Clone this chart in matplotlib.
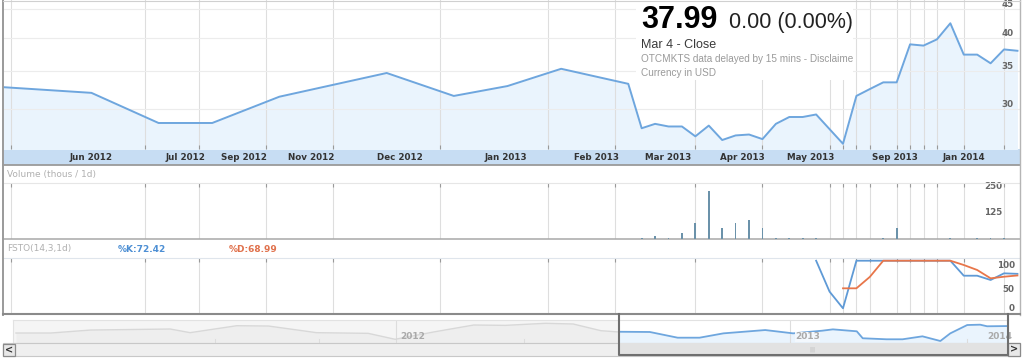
import matplotlib
matplotlib.use("Agg")
import matplotlib.pyplot as plt
from matplotlib.patches import Rectangle
from matplotlib.lines import Line2D
from matplotlib.ticker import NullLocator
from matplotlib.transforms import Bbox, TransformedBbox

W, H = 1024, 358

# price panel: one slot per weekly point, earlier points are sparse
price_slot = [-48, -41, -36, -32, -27, -19, -14, -10, -6, -1,
              0, 1, 2, 3, 4, 5, 6, 7, 8, 9, 10, 11, 12, 13, 14, 15, 16, 17,
              18, 19, 20, 21, 22, 23, 24, 25, 26, 27, 28]
price_close = [32.8, 32.0, 28.3, 28.3, 31.5, 34.7, 31.6, 32.9, 35.3, 33.2,
               27.7, 28.2, 27.9, 27.9, 26.8, 28.0, 26.4, 26.9, 27.0, 26.5, 28.2, 29.0,
               29.0, 29.3, 27.6, 26.0, 31.6, 32.5,
               33.4, 33.4, 39.0, 38.8, 39.8, 42.5, 37.4, 37.4, 36.1, 38.2, 37.99]

# volume (thousands)
vol_slot = list(range(0, 28))
vol = [6, 14, 3, 27, 78, 226, 51, 78, 91, 54, 3, 3, 3, 5, 2, 2, 2, 2, 3, 51,
       2, 2, 2, 3, 2, 3, 5, 3]

# full stochastic
k_slot = [13, 14, 15, 16, 17, 18, 19, 20, 21, 22, 23, 24, 25, 26, 27, 28]
k_val = [100, 35, 0, 100, 100, 100, 100, 100, 100, 100, 100, 68.5, 68.5, 59.5, 73.5, 72.42]
d_slot = [15, 16, 17, 18, 19, 20, 21, 22, 23, 24, 25, 26, 27, 28]
d_val = [42, 42, 66, 100, 100, 100, 100, 100, 100, 91, 80.5, 63, 66.4, 68.99]

grid_slot = [-47, -37, -33, -28, -23, -15, -7, -2, 4, 9, 14, 15, 16, 17, 19, 20, 21, 22, 24, 27]
month_pos = [-41.0, -34.0, -29.6, -24.6, -18.0, -10.1, -3.4, 2.0, 7.5, 12.6, 18.9, 24.0]
month_lbl = ['Jun 2012', 'Jul 2012', 'Sep 2012', 'Nov 2012', 'Dec 2012', 'Jan 2013',
             'Feb 2013', 'Mar 2013', 'Apr 2013', 'May 2013', 'Sep 2013', 'Jan 2014']

price_ticks = [30, 35, 40, 45]
vol_ticks = [125, 250]
sto_ticks = [0, 50, 100]

# navigator overview (position in % of history, price)
nav_old_pos = [0.3, 3.8, 7.8, 15.8, 17.8, 22.5, 25.7, 30.5, 35.7, 38.4, 42.4, 46.3,
               49.5, 53.5, 56.3, 59.1, 60.9]
nav_old_val = [33.0, 33.0, 35.6, 36.5, 33.3, 39.4, 39.1, 33.3, 32.7, 27.5, 34.1, 40.0,
               39.7, 41.5, 40.9, 35.0, 33.9]
nav_sel_pos = [60.9, 64.0, 66.8, 69.0, 71.4, 75.6, 78.4, 81.3, 82.4, 84.8, 85.4, 87.8,
               89.4, 91.4, 93.2, 94.2, 95.9, 97.2, 97.9, 100.0]
nav_sel_val = [34.1, 33.9, 28.9, 28.9, 32.7, 35.6, 32.7, 35.0, 36.2, 34.5, 28.4, 27.5,
               27.5, 30.1, 26.0, 32.7, 40.0, 40.3, 38.9, 39.1]
nav_year_pos = [38.5, 78.1]
nav_year_lbl = [(38.9, '2012'), (78.6, '2013'), (97.9, '2014')]
nav_qtr_pos = [20.3, 30.8, 51.4, 95.9]

LINE = '#6ea6de'
FILL = '#eaf4fd'
GRID_V = '#dedede'
GRID_H = '#ececec'
TICK = '#999999'
XLIM = (-47.59, 28.19)

fig = plt.figure(figsize=(W / 100, H / 100), dpi=100)


def px_axes(x0, y0, x1, y1):
    return fig.add_axes([x0 / W, 1 - y1 / H, (x1 - x0) / W, (y1 - y0) / H])


def frect(x0, y0, x1, y1, **kw):
    r = Rectangle((x0 / W, 1 - y1 / H), (x1 - x0) / W, (y1 - y0) / H,
                  transform=fig.transFigure, **kw)
    fig.add_artist(r)
    return r


def fline(xs, ys, **kw):
    fig.add_artist(Line2D([x / W for x in xs], [1 - y / H for y in ys],
                          transform=fig.transFigure, **kw))


def ftext(x, y, s, **kw):
    return fig.text(x / W, 1 - y / H, s, **kw)


def right_labels(ax, ticks, pad, va='center', size=6.3):
    ax.set_yticks(ticks, [str(t) for t in ticks])
    ax.tick_params(axis='y', left=False, labelleft=False, right=True, labelright=True,
                   length=0, pad=pad, labelsize=size, labelcolor='#666666')
    for lbl in ax.get_yticklabels():
        lbl.set_ha('right')
        lbl.set_va(va)
        lbl.set_fontweight('bold')


# time band under the price panel
band = px_axes(3, 149.5, 1020, 164.5)
band.set_facecolor('#c7ddf3')
band.set_xticks([])
band.set_yticks([])
for s in ['top', 'left', 'right']:
    band.spines[s].set_visible(False)
band.spines['bottom'].set_color('#9a9a9a')
band.spines['bottom'].set_linewidth(1.3)

# price panel
ax_p = px_axes(3, 0, 1020, 149.5)
ax_p.set_yscale('log')
ax_p.set_xlim(*XLIM)
ax_p.set_ylim(25.40, 46.73)
ax_p.plot(price_slot, price_close, color=LINE, lw=1.4, zorder=4)
ax_p.fill_between(price_slot, price_close, 20, color=FILL, lw=0, zorder=1)
ax_p.xaxis.remove_overlapping_locs = False
ax_p.set_xticks(grid_slot)
ax_p.set_xticks(month_pos, month_lbl, minor=True)
ax_p.tick_params(axis='x', which='major', direction='in', length=3, color=TICK,
                 labelbottom=False, width=0.8)
ax_p.tick_params(axis='x', which='minor', length=0, pad=2.6, labelsize=6.3,
                 labelcolor='#333333')
for lbl in ax_p.get_xticklabels(minor=True):
    lbl.set_fontweight('bold')
ax_p.yaxis.set_minor_locator(NullLocator())
right_labels(ax_p, price_ticks, pad=-4.5, va='bottom')
ax_p.grid(axis='x', which='major', color=GRID_V, lw=0.8)
ax_p.grid(axis='y', which='major', color=GRID_H, lw=0.8)
ax_p.set_axisbelow('line')
for s in ax_p.spines.values():
    s.set_visible(False)

# quote box in the corner
bx0, bx1, by0, by1 = 636, 853, 0, 80
box = Rectangle(((bx0 - 3) / 1017, (149.5 - by1) / 149.5), (bx1 - bx0) / 1017,
                (by1 - by0) / 149.5, transform=ax_p.transAxes, facecolor='white',
                edgecolor='none', zorder=3)
ax_p.add_patch(box)

clip = TransformedBbox(Bbox([[bx0 / W, 1 - by1 / H], [bx1 / W, 1]]), fig.transFigure)
hdr = dict(family='Liberation Sans', va='baseline', ha='left')
ftext(641, 28, '37.99', size=22, weight='bold', color='black', **hdr)
ftext(729, 28, '0.00 (0.00%)', size=15.5, color='#222222', **hdr)
ftext(641, 48.5, 'Mar 4 - Close', size=9, color='#3a3a3a', **hdr)
t = ftext(641, 62, 'OTCMKTS data delayed by 15 mins - Disclaimer', size=7.2,
          color='#9a9a9a', **hdr)
t.set_clip_box(clip)
t.set_clip_on(True)
ftext(641, 75.5, 'Currency in USD', size=7.2, color='#9a9a9a', **hdr)

# volume panel
ax_v = px_axes(3, 183, 1020, 239)
ax_v.set_xlim(*XLIM)
ax_v.set_ylim(0, 266)
ax_v.bar(vol_slot, vol, width=0.13, color='#6b92aa', zorder=3)
ax_v.set_xticks(grid_slot)
ax_v.xaxis.set_ticks_position('top')
ax_v.tick_params(axis='x', direction='in', length=3.2, color=TICK, labeltop=False,
                 labelbottom=False, width=0.8)
right_labels(ax_v, vol_ticks, pad=-12.5)
ax_v.grid(axis='x', color=GRID_V, lw=0.8)
ax_v.set_axisbelow(True)
for s in ['left', 'right']:
    ax_v.spines[s].set_visible(False)
ax_v.spines['top'].set_color('#e6e6e6')
ax_v.spines['bottom'].set_color('#a8a8a8')
ax_v.spines['bottom'].set_linewidth(1.1)

ftext(7, 174, 'Volume (thous / 1d)', size=6.5, color='#b0b0b0', va='center')
ftext(7, 249, 'FSTO(14,3,1d)', size=6.5, color='#b0b0b0', va='center')
ftext(118, 249, '%K:72.42', size=6.5, color='#4d8fd4', va='center', weight='bold')
ftext(229, 249, '%D:68.99', size=6.5, color='#e0714c', va='center', weight='bold')

# stochastic panel
ax_s = px_axes(3, 258, 1020, 313.5)
ax_s.set_xlim(*XLIM)
ax_s.set_ylim(-10.9, 105.7)
ax_s.plot(k_slot, k_val, color='#5f9ad6', lw=1.3, zorder=3)
ax_s.plot(d_slot, d_val, color='#e8764a', lw=1.3, zorder=4)
ax_s.set_xticks(grid_slot)
ax_s.xaxis.set_ticks_position('top')
ax_s.tick_params(axis='x', direction='in', length=3.2, color=TICK, labeltop=False,
                 labelbottom=False, width=0.8)
right_labels(ax_s, sto_ticks, pad=-3.8, va='top')
ax_s.get_yticklabels()[0].set_va('center')
ax_s.grid(axis='x', color=GRID_V, lw=0.8)
ax_s.set_axisbelow(True)
for s in ['left', 'right', 'bottom']:
    ax_s.spines[s].set_visible(False)
ax_s.spines['top'].set_color('#dfe5ec')

# outer frame of the chart
fline([2.5, 2.5], [0, 314.5], color='#9a9a9a', lw=1.4)
fline([1020, 1020], [0, 314.5], color='#b5b5b5', lw=1.0)
fline([2.5, 1020], [0.5, 0.5], color='#d0d0d0', lw=0.8)
fline([2.5, 1020], [314.3, 314.3], color='#8a8a8a', lw=1.5)

# navigator
ax_n = px_axes(13, 320, 1008, 343)
ax_n.set_facecolor('#f5f5f5')
ax_n.set_xlim(0, 100)
ax_n.set_ylim(24.25, 44.4)
ax_n.axvspan(nav_sel_pos[0], 100, color='white', lw=0, zorder=0)
ax_n.fill_between(nav_old_pos, nav_old_val, 0, color='#eeeeee', lw=0, zorder=1)
ax_n.plot(nav_old_pos, nav_old_val, color='#d8d8d8', lw=1.0, zorder=2)
ax_n.fill_between(nav_sel_pos, nav_sel_val, 0, color=FILL, lw=0, zorder=1)
ax_n.plot(nav_sel_pos, nav_sel_val, color=LINE, lw=1.3, zorder=2)
for p in nav_year_pos:
    ax_n.axvline(p, color='#dddddd', lw=0.8, zorder=1.5)
for p in nav_qtr_pos:
    ax_n.axvline(p, ymin=0, ymax=0.18, color='#dddddd', lw=0.8, zorder=1.5)
for p, s in nav_year_lbl:
    ax_n.text(p, 0.28, s, transform=ax_n.get_xaxis_transform(), size=6.5,
              weight='bold', color='#aaaaaa', va='center', ha='left', zorder=3,
              bbox=dict(facecolor='#f3f8fd', edgecolor='none', pad=0.3)
              if s == '2013' else None)
ax_n.set_xticks([])
ax_n.set_yticks([])
for s in ax_n.spines.values():
    s.set_color('#e2e2e2')
    s.set_linewidth(0.8)

# scrollbar
frect(3, 343, 1020, 356, facecolor='#efefef', edgecolor='#c8c8c8', lw=0.8)
frect(619, 343, 1008, 355, facecolor='#e2e2e2', edgecolor='none')
ftext(812, 349.5, '|||', size=4, color='#b0b0b0', ha='center', va='center')
frect(3, 344, 15, 356, facecolor='#e8e8e8', edgecolor='#8a8a8a', lw=0.9)
ftext(9, 350, '<', size=7, weight='bold', color='#333333', ha='center', va='center')
frect(1008, 343, 1020, 356, facecolor='#e8e8e8', edgecolor='#8a8a8a', lw=0.9)
ftext(1014, 349.5, '>', size=7, weight='bold', color='#333333', ha='center', va='center')
fline([619, 619, 1008, 1008], [314.3, 355.3, 355.3, 314.3], color='#6f6f6f', lw=1.5)

fig.savefig('out.png', dpi=100)
